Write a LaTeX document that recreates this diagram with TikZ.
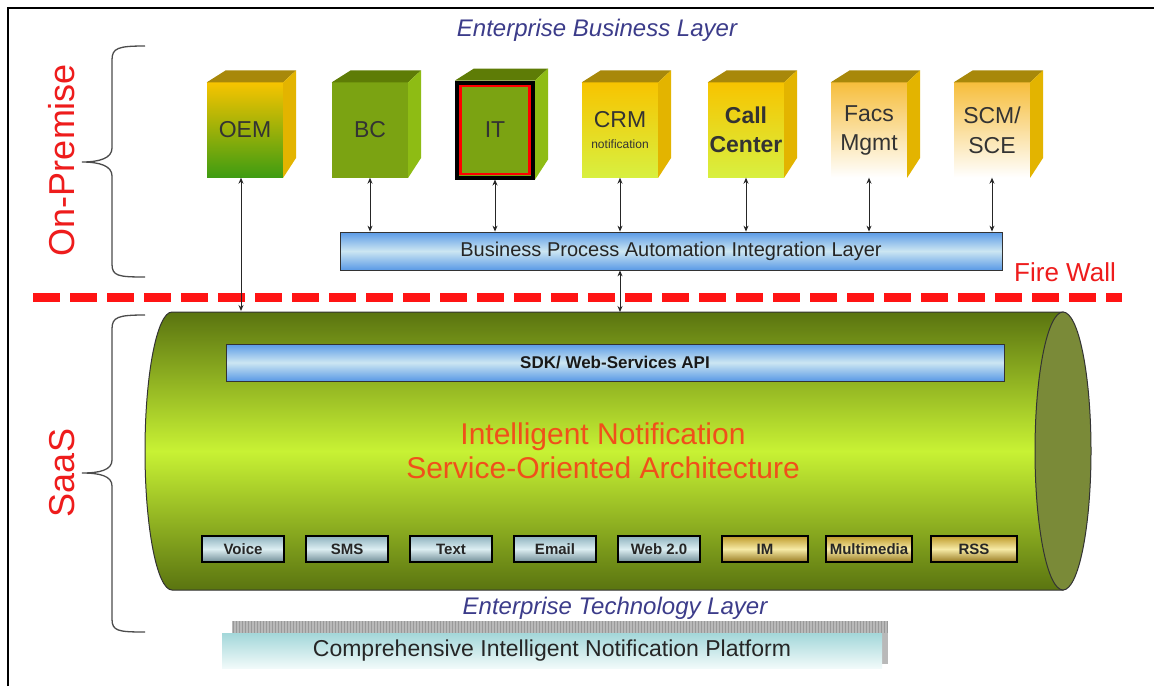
\documentclass[tikz,border=0pt]{standalone}
\usepackage{fontspec}
\setmainfont{Liberation Sans}
\usetikzlibrary{arrows.meta}
\definecolor{fwred}{HTML}{FF1414}
\definecolor{lblred}{HTML}{EE1C1C}
\definecolor{soa}{HTML}{F0501A}
\definecolor{ebl}{HTML}{3C3C8A}
\definecolor{ygold}{HTML}{F7C400}
\definecolor{ogreen}{HTML}{3E9C12}
\definecolor{olive}{HTML}{7BA312}
\definecolor{olivetop}{HTML}{5E7C06}
\definecolor{oliveside}{HTML}{8EBC14}
\definecolor{goldtop}{HTML}{A8880A}
\definecolor{goldside}{HTML}{E3B400}
\definecolor{limey}{HTML}{D8F040}
\definecolor{facstop}{HTML}{F6BE3C}
\definecolor{bpablue}{HTML}{5A9AE6}
\definecolor{bpalight}{HTML}{CCE6F2}
\definecolor{cyldark}{HTML}{5A7410}
\definecolor{cyllight}{HTML}{C8F234}
\definecolor{cylend}{HTML}{7A8A38}
\definecolor{btngray}{HTML}{8EB2BE}
\definecolor{btnlight}{HTML}{DCEEF2}
\definecolor{btngold}{HTML}{BE9A2A}
\definecolor{btngoldl}{HTML}{F6EAA6}
\definecolor{platc}{HTML}{A4D8DA}
\definecolor{platl}{HTML}{F2FAFA}
\definecolor{txtgray}{HTML}{333333}
\newcommand\fsz[1]{\fontsize{#1}{#1}\selectfont}
\newcommand\mkcube[7]{%
  \node[cubefront, top color=#3, bottom color=#4] (#1) at (#2,130) {#7};
  \fill[#5] (#1.north west) -- ++(19,-12) -- ([shift={(13,-12)}]#1.north east) -- (#1.north east) -- cycle;
  \fill[#6] (#1.north east) -- ++(13,-12) -- ([shift={(13,-20)}]#1.south east) -- (#1.south east) -- cycle;
}
\begin{document}
\begin{tikzpicture}[x=1pt,y=-1pt,
  cubefront/.style={minimum width=76pt, minimum height=95pt, inner sep=0pt, align=center, text=txtgray, font=\fsz{23}},
  dbl/.style={{Stealth[length=6pt,width=5pt]}-{Stealth[length=6pt,width=5pt]}, line width=0.9pt, black!85},
  blueband/.style={draw=black!80, line width=0.8pt, top color=bpablue, bottom color=bpablue, middle color=bpalight, inner sep=0pt},
  svc/.style={draw=black, line width=1.6pt, minimum height=26pt, inner sep=0pt, font=\bfseries\fsz{15}, text=black!85},
  svcgray/.style={svc, minimum width=82pt, top color=btngray, bottom color=btngray!80!black, middle color=btnlight},
  svcgold/.style={svc, minimum width=86pt, top color=btngold, bottom color=btngold!80!black, middle color=btngoldl},
  brace/.style={line width=1.3pt, black!70},
  sidelbl/.style={text=lblred, font=\fsz{36}, rotate=90},
  layerlbl/.style={text=ebl, font=\itshape\fsz{24}}]
\useasboundingbox (0,0) rectangle (1154,686);
\fill[white] (0,0) rectangle (1154,686);
\draw[line width=2.5pt] (8,686) -- (8,8) -- (1154,8);

% labels
\node[layerlbl] (ebl) at (597,30) {Enterprise Business Layer};
\node[sidelbl] (onprem) at (62,160) {On-Premise};
\node[sidelbl] (saas) at (62,473) {SaaS};

% braces
\draw[brace] (145,46) .. controls (118,46) and (112,48) .. (112,60) -- (112,148)
  .. controls (112,158) and (100,162) .. (82,162) .. controls (100,162) and (112,166) .. (112,176)
  -- (112,264) .. controls (112,276) and (118,277) .. (145,277);
\draw[brace] (145,315) .. controls (118,315) and (112,317) .. (112,329) -- (112,460)
  .. controls (112,470) and (100,473) .. (82,473) .. controls (100,473) and (112,476) .. (112,486)
  -- (112,619) .. controls (112,631) and (118,632) .. (145,632);

% cubes
\mkcube{oem}{245}{ygold}{ogreen}{goldtop}{goldside}{OEM}
\mkcube{bc}{370}{olive}{olive}{olivetop}{oliveside}{BC}
\node[cubefront, fill=olive, draw=black, line width=4pt] (it) at (495,130) {IT};
\fill[olivetop] (it.north west) -- ++(19,-12) -- ([shift={(13,-12)}]it.north east) -- (it.north east) -- cycle;
\fill[oliveside] (it.north east) -- ++(13,-12) -- ([shift={(13,-20)}]it.south east) -- (it.south east) -- cycle;
\draw[red, line width=2.2pt] ([shift={(5.5,5.5)}]it.north west) rectangle ([shift={(-5.5,-5.5)}]it.south east);
\mkcube{crm}{620}{ygold}{limey}{goldtop}{goldside}{CRM\\[-2pt]{\fsz{12}notification}}
\mkcube{call}{746}{ygold}{limey}{goldtop}{goldside}{\bfseries Call\\[6pt]\bfseries Center}
\mkcube{facs}{869}{facstop}{white}{goldtop}{goldside}{Facs\\[6pt]Mgmt}
\mkcube{scm}{992}{facstop}{white}{goldtop}{goldside}{SCM/\\[7pt]SCE}

% business process layer
\node[blueband, minimum width=662pt, minimum height=38pt, font=\fsz{20}, text=black!85] (bpa) at (671,251) {Business Process Automation Integration Layer};

% fire wall
\node[text=lblred, font=\fsz{26}] (fw) at (1065,272) {Fire Wall};
\draw[fwred, line width=9pt, dash pattern=on 27pt off 10pt] (33,297) -- (1122,297);

% cylinder
\shadedraw[top color=cyldark, bottom color=cyldark, middle color=cyllight, draw=black!80, line width=1pt]
  (172,312) -- (1063,312) -- (1063,590) -- (172,590) arc[start angle=90, end angle=270, x radius=27, y radius=139] -- cycle;
\filldraw[fill=cylend, draw=black!80, line width=1pt] (1063,451) ellipse [x radius=28, y radius=139];
\coordinate (cyltop) at (620,312);
\coordinate (oemend) at (241,311);

\node[blueband, minimum width=778pt, minimum height=37pt, font=\bfseries\fsz{17}, text=black!90] (sdk) at (615,362.5) {SDK/ Web-Services API};
\node[text=soa, font=\fontsize{30}{34}\selectfont, align=center] (soatxt) at (603,451) {Intelligent Notification\\Service-Oriented Architecture};

\node[svcgray] (voice) at (243,549) {Voice};
\node[svcgray] (sms) at (347,549) {SMS};
\node[svcgray] (text) at (451,549) {Text};
\node[svcgray] (email) at (555,549) {Email};
\node[svcgray] (web) at (659,549) {Web 2.0};
\node[svcgold] (im) at (765,549) {IM};
\node[svcgold] (mm) at (869,549) {Multimedia};
\node[svcgold] (rss) at (974,549) {RSS};

% connectors
\draw[dbl] ([xshift=-4pt]oem.south) -- (oemend);
\foreach \n in {bc,it,crm,call,facs,scm} \draw[dbl] (\n.south) -- (\n.south |- bpa.north);
\draw[dbl] (bpa.south -| cyltop) -- (cyltop);

% technology layer
\node[layerlbl] (etl) at (615,608) {Enterprise Technology Layer};
\fill[gray!55] (232,621) rectangle (888,633);
\fill[gray!55] (878,621) rectangle (888,664);
\foreach \x in {233,236,...,887} \draw[gray!80, line width=0.4pt] (\x,621) -- (\x,633);
\node[minimum width=660pt, minimum height=35pt, top color=platc, bottom color=platl, inner sep=0pt, font=\fsz{23}, text=black!85] (plat) at (552,651) {Comprehensive Intelligent Notification Platform};
\end{tikzpicture}
\end{document}
